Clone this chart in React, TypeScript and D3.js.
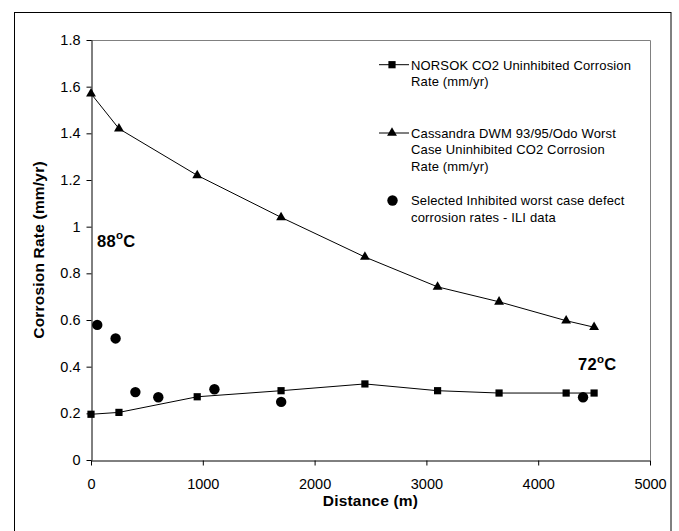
import React, { useEffect, useRef } from "react";
import * as d3 from "d3";

const distance = [0, 250, 950, 1700, 2450, 3100, 3650, 4250, 4500];
const norsok = [0.196, 0.204, 0.271, 0.297, 0.326, 0.297, 0.287, 0.287, 0.287];
const cassandra = [1.57, 1.42, 1.22, 1.04, 0.87, 0.742, 0.678, 0.597, 0.569];

const iliDistance = [56, 220, 397, 602, 1104, 1701, 4401];
const iliRate = [0.579, 0.521, 0.291, 0.269, 0.303, 0.249, 0.269];

const xTicks = [0, 1000, 2000, 3000, 4000, 5000];
const yTicks = [0, 0.2, 0.4, 0.6, 0.8, 1, 1.2, 1.4, 1.6, 1.8];

const legendLabels = [
  ["NORSOK CO2 Uninhibited Corrosion", "Rate (mm/yr)"],
  ["Cassandra DWM 93/95/Odo Worst", "Case Uninhibited CO2 Corrosion", "Rate (mm/yr)"],
  ["Selected Inhibited worst case defect", "corrosion rates - ILI data"],
];

const FONT = "'Liberation Sans', Arial, sans-serif";

const Chart = () => {
  const ref = useRef<SVGSVGElement>(null);

  useEffect(() => {
    const width = 679;
    const height = 531;
    const margin = { top: 40, right: 29, bottom: 71, left: 91 };

    const svg = d3.select(ref.current);
    svg.selectAll("*").remove();
    svg.attr("width", width).attr("height", height).style("font-family", FONT);

    svg
      .append("rect")
      .attr("width", width)
      .attr("height", height)
      .attr("fill", "white");

    // outer frame
    svg
      .append("rect")
      .attr("x", 14.5)
      .attr("y", 12.5)
      .attr("width", 656.5)
      .attr("height", 530)
      .attr("fill", "none")
      .attr("stroke", "black")
      .attr("stroke-width", 1);

    const x = d3
      .scaleLinear()
      .domain([0, 5000])
      .range([margin.left, width - margin.right]);

    const y = d3
      .scaleLinear()
      .domain([0, 1.8])
      .range([height - margin.bottom, margin.top]);

    // plot area border (gray top/right)
    svg
      .append("path")
      .attr("d", `M${x(0)},${y(1.8) + 0.5}H${x(5000) + 0.5}V${y(0)}`)
      .attr("fill", "none")
      .attr("stroke", "#808080");

    const yAxis = svg
      .append("g")
      .attr("transform", `translate(${x(0) + 0.5},0)`)
      .call(
        d3
          .axisLeft(y)
          .tickValues(yTicks)
          .tickSize(5)
          .tickSizeOuter(0)
          .tickPadding(6)
          .tickFormat((d) => String(d))
      );
    yAxis
      .selectAll("text")
      .attr("font-size", 14.5)
      .attr("fill", "black")
      .attr("font-family", FONT);
    yAxis.selectAll("line,path").attr("stroke", "black");

    const xAxis = svg
      .append("g")
      .attr("transform", `translate(0,${y(0) + 0.5})`)
      .call(
        d3
          .axisBottom(x)
          .tickValues(xTicks)
          .tickSize(5)
          .tickSizeOuter(0)
          .tickPadding(13)
          .tickFormat((d) => String(d))
      );
    xAxis
      .selectAll("text")
      .attr("font-size", 14.5)
      .attr("fill", "black")
      .attr("font-family", FONT);
    xAxis.selectAll("line,path").attr("stroke", "black");

    // axis titles
    svg
      .append("text")
      .attr("x", (x(0) + x(5000)) / 2)
      .attr("y", 506)
      .attr("text-anchor", "middle")
      .attr("font-size", 15.5)
      .attr("font-weight", "bold")
      .attr("letter-spacing", 0.2)
      .text("Distance (m)");

    svg
      .append("text")
      .attr("transform", `translate(44,${(y(0) + y(1.8)) / 2}) rotate(-90)`)
      .attr("text-anchor", "middle")
      .attr("font-size", 15.5)
      .attr("font-weight", "bold")
      .attr("letter-spacing", 0.2)
      .text("Corrosion Rate (mm/yr)");

    const line = d3
      .line<number>()
      .x((d, i) => x(distance[i]))
      .y((d) => y(d));

    const square = d3.symbol().type(d3.symbolSquare).size(52);
    const triangle = d3.symbol().type(d3.symbolTriangle).size(42);

    // NORSOK
    svg
      .append("path")
      .datum(norsok)
      .attr("fill", "none")
      .attr("stroke", "black")
      .attr("stroke-width", 1)
      .attr("d", line);
    svg
      .append("g")
      .selectAll("path")
      .data(norsok)
      .join("path")
      .attr("transform", (d, i) => `translate(${x(distance[i])},${y(d)})`)
      .attr("d", square);

    // Cassandra
    svg
      .append("path")
      .datum(cassandra)
      .attr("fill", "none")
      .attr("stroke", "black")
      .attr("stroke-width", 1)
      .attr("d", line);
    svg
      .append("g")
      .selectAll("path")
      .data(cassandra)
      .join("path")
      .attr("transform", (d, i) => `translate(${x(distance[i])},${y(d)})`)
      .attr("d", triangle);

    // ILI points
    svg
      .append("g")
      .selectAll("circle")
      .data(iliRate)
      .join("circle")
      .attr("cx", (d, i) => x(iliDistance[i]))
      .attr("cy", (d) => y(d))
      .attr("r", 5.2);

    // temperature notes
    const note = (tx: number, ty: number, num: string) => {
      const t = svg
        .append("text")
        .attr("x", tx)
        .attr("y", ty)
        .attr("font-size", 16.5)
        .attr("font-weight", "bold")
        .attr("letter-spacing", 0.3);
      t.append("tspan").text(num);
      t.append("tspan").attr("font-size", 11.5).attr("dy", -7.5).text("o");
      t.append("tspan").attr("dy", 7.5).text("C");
    };
    note(97, 246.5, "88");
    note(578, 370, "72");

    // legend
    const legendY = [64.7, 133, 200.5];
    const lg = svg.append("g").attr("font-size", 13);
    legendLabels.forEach((lines, k) => {
      const ly = legendY[k];
      if (k < 2) {
        lg.append("line")
          .attr("x1", 379)
          .attr("x2", 409)
          .attr("y1", ly)
          .attr("y2", ly)
          .attr("stroke", "black");
        lg.append("path")
          .attr("transform", `translate(392,${ly})`)
          .attr("d", k === 0 ? square : triangle);
      } else {
        lg.append("circle").attr("cx", 392.5).attr("cy", ly).attr("r", 5.2);
      }
      lines.forEach((s, j) => {
        lg.append("text")
          .attr("x", 411)
          .attr("y", ly + 4.8 + j * 16.4)
          .attr("letter-spacing", 0.15)
          .text(s);
      });
    });
  }, []);

  return <svg ref={ref} style={{ position: "absolute", left: 0, top: 0 }}></svg>;
};

export default function App() {
  return <Chart />;
}
